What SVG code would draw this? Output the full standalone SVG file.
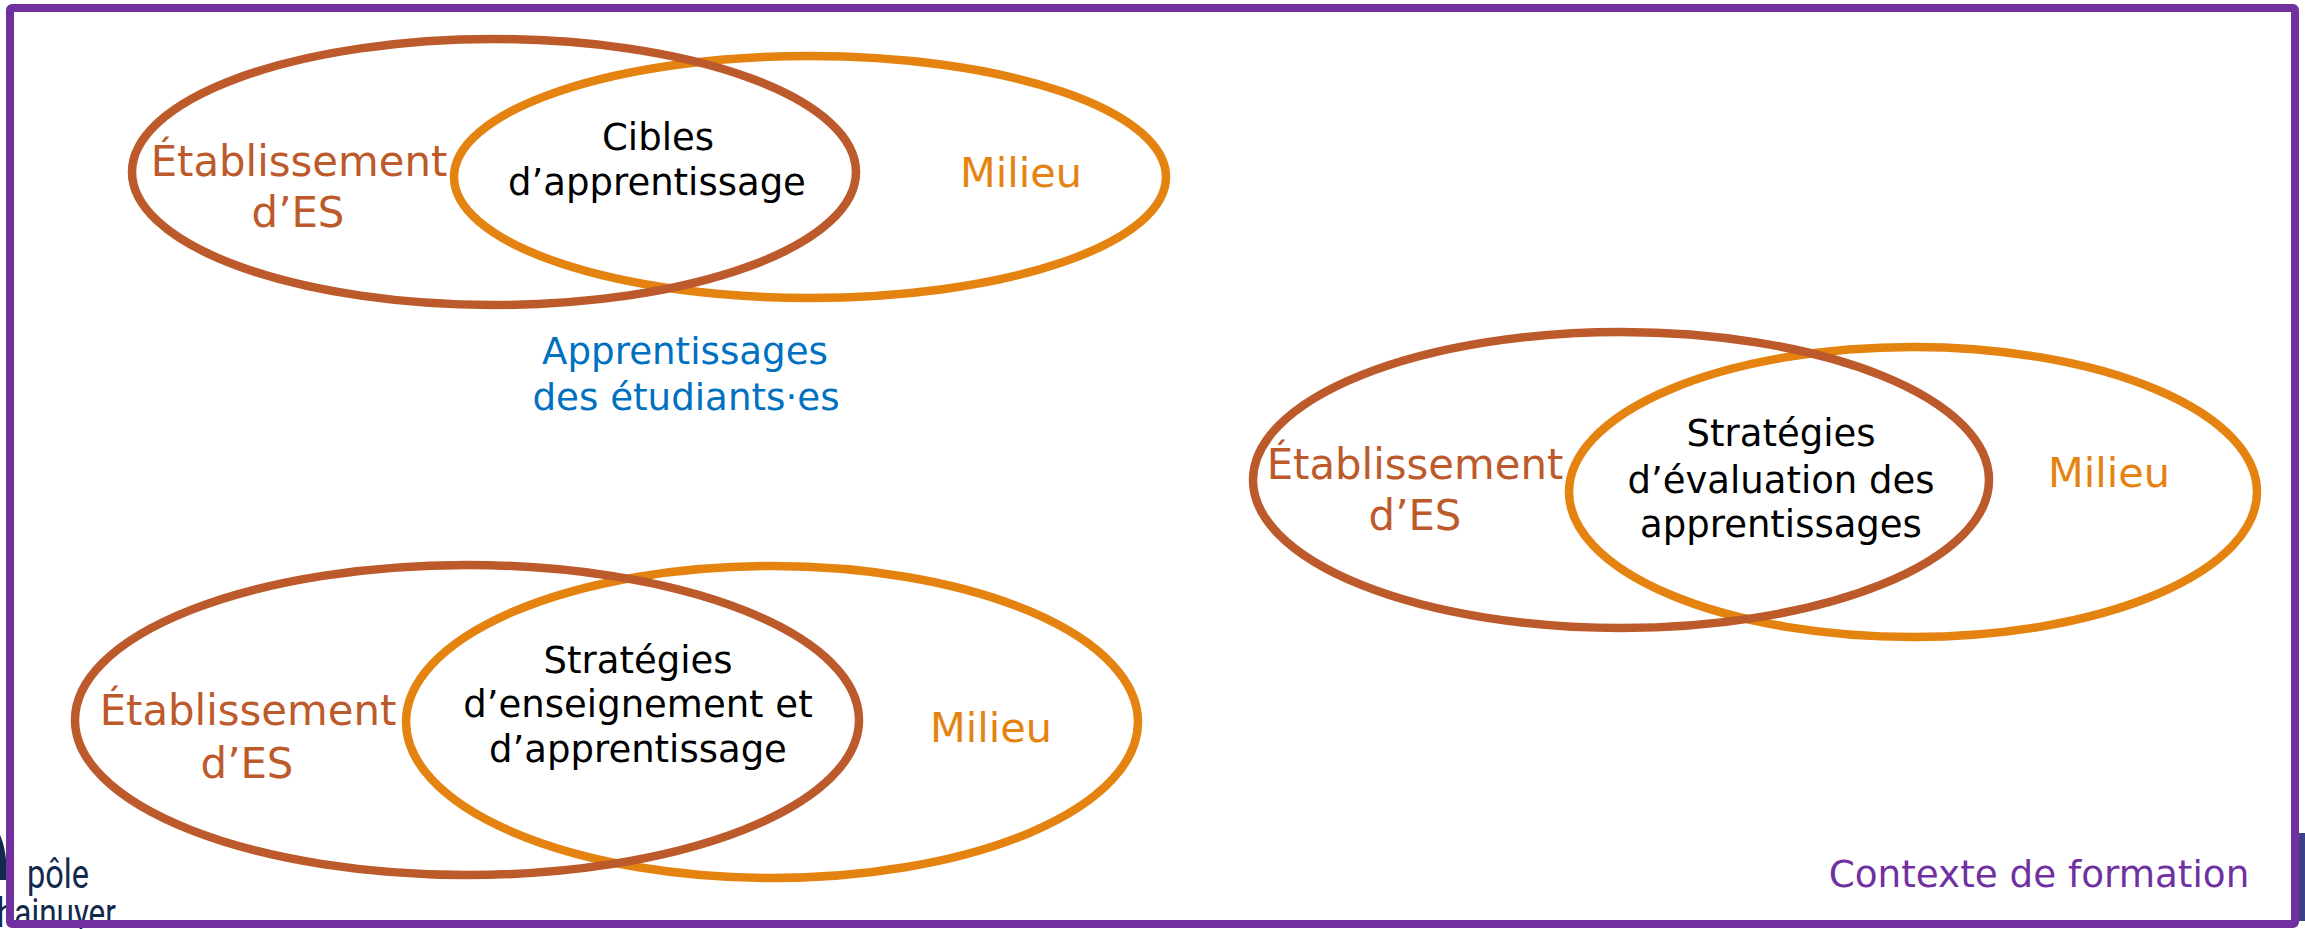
<svg xmlns="http://www.w3.org/2000/svg" width="2305" height="929" viewBox="0 0 2305 929">
<style>
text{font-family:"DejaVu Sans","Liberation Sans",sans-serif;text-anchor:middle}
.b{fill:none;stroke:#BC5A2B;stroke-width:8.5}
.o{fill:none;stroke:#E58311;stroke-width:8.5}
.tb{fill:#BC5A2B;font-size:41.8px}
.to{fill:#E58311;font-size:41.4px}
.tk{fill:#000;font-size:37px}
.tu{fill:#0070C0;font-size:37.2px}
.tp{fill:#7030A0;font-size:37.3px}
.logo{fill:#12284C;font-family:"Roboto","Liberation Sans",sans-serif;font-size:40px;text-anchor:start}
</style>
<rect width="2305" height="929" fill="#fff"/>
<g id="logo">
<path d="M0 835Q7 850 7 880L0 880Z" fill="#12284C"/>
<text class="logo" x="27" y="888" textLength="62" lengthAdjust="spacingAndGlyphs">pôle</text>
<text class="logo" x="-3" y="927" textLength="119" lengthAdjust="spacingAndGlyphs">hainuyer</text>
<rect x="2299" y="833" width="6" height="88" fill="#3A4285"/>
</g>
<g id="frame"><rect x="10" y="8" width="2285" height="916" rx="2" fill="none" stroke="#7030A0" stroke-width="8"/></g>
<g id="venn-cibles">
<g id="n1-milieu"><ellipse class="o" cx="810" cy="177" rx="356" ry="121"/><text class="to" x="1021" y="187">Milieu</text></g>
<g id="n1-etab"><ellipse class="b" cx="494" cy="172" rx="362" ry="133"/><text class="tb" x="299" y="176">Établissement</text><text class="tb" x="298" y="227">d’ES</text></g>
<g id="n1-cible"><text class="tk" x="658" y="150">Cibles</text><text class="tk" x="657" y="195">d’apprentissage</text></g>
</g>
<g id="n-apprentissages"><text class="tu" x="685" y="364">Apprentissages</text><text class="tu" x="686" y="410">des étudiants·es</text></g>
<g id="venn-evaluation">
<g id="n2-milieu"><ellipse class="o" cx="1913" cy="492" rx="344" ry="145"/><text class="to" x="2109" y="487">Milieu</text></g>
<g id="n2-etab"><ellipse class="b" cx="1621" cy="480" rx="368" ry="148"/><text class="tb" x="1415" y="479">Établissement</text><text class="tb" x="1415" y="530">d’ES</text></g>
<g id="n2-cible"><text class="tk" x="1781" y="446">Stratégies</text><text class="tk" x="1781" y="493">d’évaluation des</text><text class="tk" x="1781" y="537">apprentissages</text></g>
</g>
<g id="venn-enseignement">
<g id="n3-milieu"><ellipse class="o" cx="772" cy="722" rx="366" ry="156"/><text class="to" x="991" y="742">Milieu</text></g>
<g id="n3-etab"><ellipse class="b" cx="467" cy="720" rx="392" ry="155"/><text class="tb" x="248" y="725">Établissement</text><text class="tb" x="247" y="778">d’ES</text></g>
<g id="n3-cible"><text class="tk" x="638" y="673">Stratégies</text><text class="tk" x="638" y="717">d’enseignement et</text><text class="tk" x="638" y="762">d’apprentissage</text></g>
</g>
<g id="n-contexte"><text class="tp" x="2039" y="887">Contexte de formation</text></g>
<g id="connectors"/>
</svg>
